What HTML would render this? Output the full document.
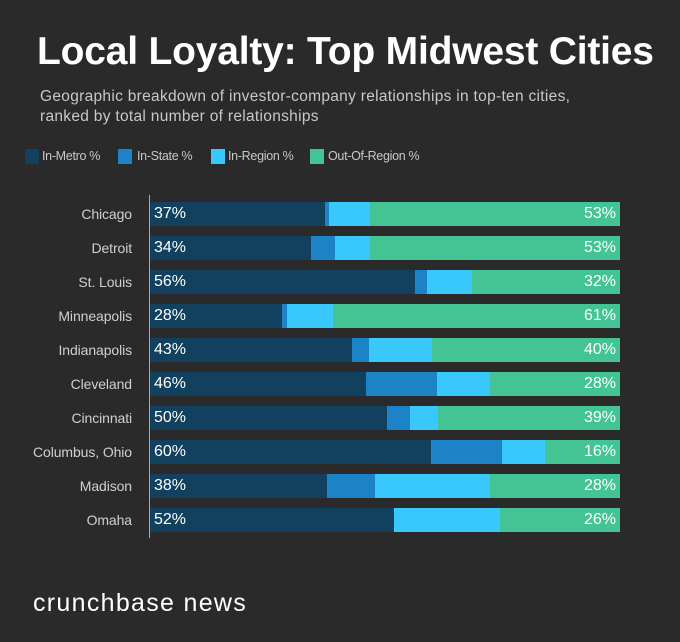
<!DOCTYPE html>
<html><head><style>
body{margin:0;width:680px;height:642px;background:#2a2a2a;font-family:"Liberation Sans",sans-serif;position:relative;overflow:hidden}
.a{position:absolute}
.t{left:37px;top:30px;font-size:39px;font-weight:bold;color:#fff;letter-spacing:-0.2px}
.s{left:40px;top:87px;font-size:15.5px;line-height:20px;color:#c8c8c8;letter-spacing:0.3px}
.sq{width:14px;height:15px;top:149px}
.lt{top:149px;font-size:12.5px;color:#c8c8c8;letter-spacing:-0.3px}
.lab{width:132px;text-align:right;font-size:14px;color:#d0d0d0;left:0;letter-spacing:-0.1px}
.seg{height:24px}
.v{font-size:16px;color:#fff}
</style></head><body>
<div class="a t">Local Loyalty: Top Midwest Cities</div>
<div class="a s">Geographic breakdown of investor-company relationships in top-ten cities,<br>ranked by total number of relationships</div>
<div class="a sq" style="left:25px;background:#12405f"></div><div class="a lt" style="left:42px">In-Metro %</div>
<div class="a sq" style="left:118px;background:#1c83c6"></div><div class="a lt" style="left:137px">In-State %</div>
<div class="a sq" style="left:211px;background:#38c8fc"></div><div class="a lt" style="left:228px">In-Region %</div>
<div class="a sq" style="left:310px;background:#44c495"></div><div class="a lt" style="left:328px">Out-Of-Region %</div>
<div class="a" style="left:149px;top:195px;width:1px;height:343px;background:#aaa"></div>
<div id="bars"></div>
<div class="a" style="left:33px;top:589px;font-size:25px;color:#fff;letter-spacing:1.3px">crunchbase news</div>
<script>
var d=[["Chicago",325,329,370,"37%","53%"],["Detroit",311,335,370,"34%","53%"],["St. Louis",415,427,472,"56%","32%"],["Minneapolis",282,287,333,"28%","61%"],["Indianapolis",352,369,432,"43%","40%"],["Cleveland",366,437,490,"46%","28%"],["Cincinnati",387,410,438,"50%","39%"],["Columbus, Ohio",431,502,545,"60%","16%"],["Madison",327,375,490,"38%","28%"],["Omaha",394,394,500,"52%","26%"]];
var h="";d.forEach(function(r,i){var y=202+34*i;
h+='<div class="a lab" style="top:'+(y+4)+'px">'+r[0]+'</div>';
var xs=[150,r[1],r[2],r[3],620],c=["#12405f","#1c83c6","#38c8fc","#44c495"];
for(var k=0;k<4;k++)h+='<div class="a seg" style="left:'+xs[k]+'px;top:'+y+'px;width:'+(xs[k+1]-xs[k])+'px;background:'+c[k]+'"></div>';
h+='<div class="a v" style="left:154px;top:'+(y+3)+'px">'+r[4]+'</div><div class="a v" style="left:560px;width:56px;text-align:right;top:'+(y+3)+'px">'+r[5]+'</div>';});
document.getElementById("bars").innerHTML=h;
</script>
</body></html>
